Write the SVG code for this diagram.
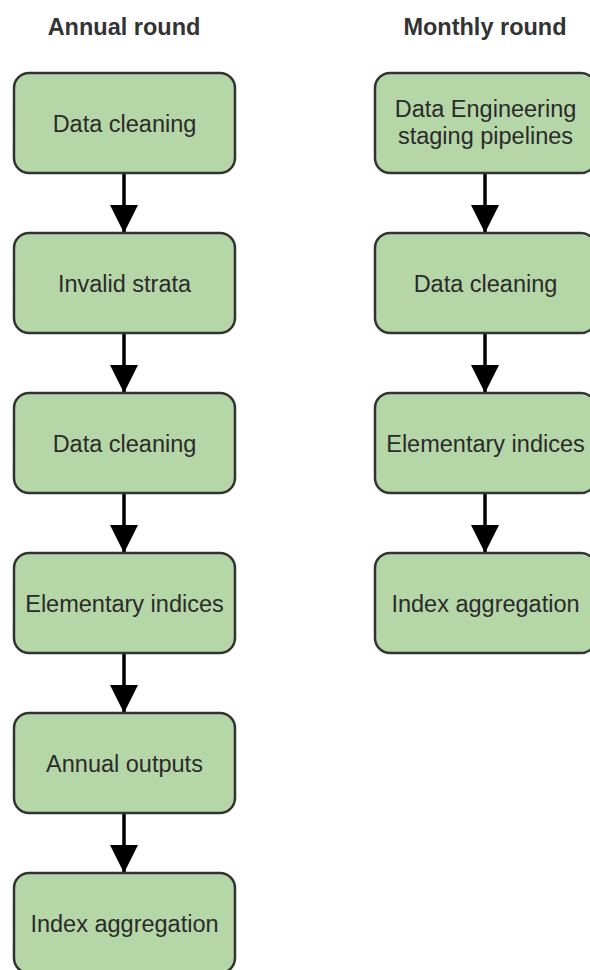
<svg xmlns="http://www.w3.org/2000/svg" width="590" height="970" viewBox="0 0 590 970">
<style>
.box{fill:#b5d6a7;stroke:#333333;stroke-width:2.5}
.lbl{font-family:"Liberation Sans",Arial,sans-serif;font-size:23.5px;fill:#2b2b2b;text-anchor:middle}
.ttl{font-family:"Liberation Sans",Arial,sans-serif;font-size:23.5px;font-weight:bold;fill:#333333;text-anchor:middle}
.edge{stroke:#000;stroke-width:3.5;fill:none}
</style>
<defs>
<marker id="ah" markerUnits="userSpaceOnUse" markerWidth="30" markerHeight="28" refX="28" refY="14" orient="auto">
<path d="M0,0 L28,14 L0,28 Z" fill="#000"/>
</marker>
</defs>
<rect width="590" height="970" fill="#ffffff"/>
<text class="ttl" x="124" y="35">Annual round</text>
<text class="ttl" x="485" y="35">Monthly round</text>
<g id="connectors">
<line class="edge" x1="124" y1="173" x2="124" y2="233" marker-end="url(#ah)"/>
<line class="edge" x1="124" y1="333" x2="124" y2="393" marker-end="url(#ah)"/>
<line class="edge" x1="124" y1="493" x2="124" y2="553" marker-end="url(#ah)"/>
<line class="edge" x1="124" y1="653" x2="124" y2="713" marker-end="url(#ah)"/>
<line class="edge" x1="124" y1="813" x2="124" y2="873" marker-end="url(#ah)"/>
<line class="edge" x1="485" y1="173" x2="485" y2="233" marker-end="url(#ah)"/>
<line class="edge" x1="485" y1="333" x2="485" y2="393" marker-end="url(#ah)"/>
<line class="edge" x1="485" y1="493" x2="485" y2="553" marker-end="url(#ah)"/>
</g>
<g id="a1"><rect class="box" x="14" y="73" width="221" height="100" rx="15"/><text class="lbl" x="124.5" y="131.5">Data cleaning</text></g>
<g id="a2"><rect class="box" x="14" y="233" width="221" height="100" rx="15"/><text class="lbl" x="124.5" y="291.5">Invalid strata</text></g>
<g id="a3"><rect class="box" x="14" y="393" width="221" height="100" rx="15"/><text class="lbl" x="124.5" y="451.5">Data cleaning</text></g>
<g id="a4"><rect class="box" x="14" y="553" width="221" height="100" rx="15"/><text class="lbl" x="124.5" y="611.5">Elementary indices</text></g>
<g id="a5"><rect class="box" x="14" y="713" width="221" height="100" rx="15"/><text class="lbl" x="124.5" y="771.5">Annual outputs</text></g>
<g id="a6"><rect class="box" x="14" y="873" width="221" height="100" rx="15"/><text class="lbl" x="124.5" y="931.5">Index aggregation</text></g>
<g id="m1"><rect class="box" x="375" y="73" width="221" height="100" rx="15"/><text class="lbl" x="485.5" y="117">Data Engineering</text><text class="lbl" x="485.5" y="144">staging pipelines</text></g>
<g id="m2"><rect class="box" x="375" y="233" width="221" height="100" rx="15"/><text class="lbl" x="485.5" y="291.5">Data cleaning</text></g>
<g id="m3"><rect class="box" x="375" y="393" width="221" height="100" rx="15"/><text class="lbl" x="485.5" y="451.5">Elementary indices</text></g>
<g id="m4"><rect class="box" x="375" y="553" width="221" height="100" rx="15"/><text class="lbl" x="485.5" y="611.5">Index aggregation</text></g>
</svg>
